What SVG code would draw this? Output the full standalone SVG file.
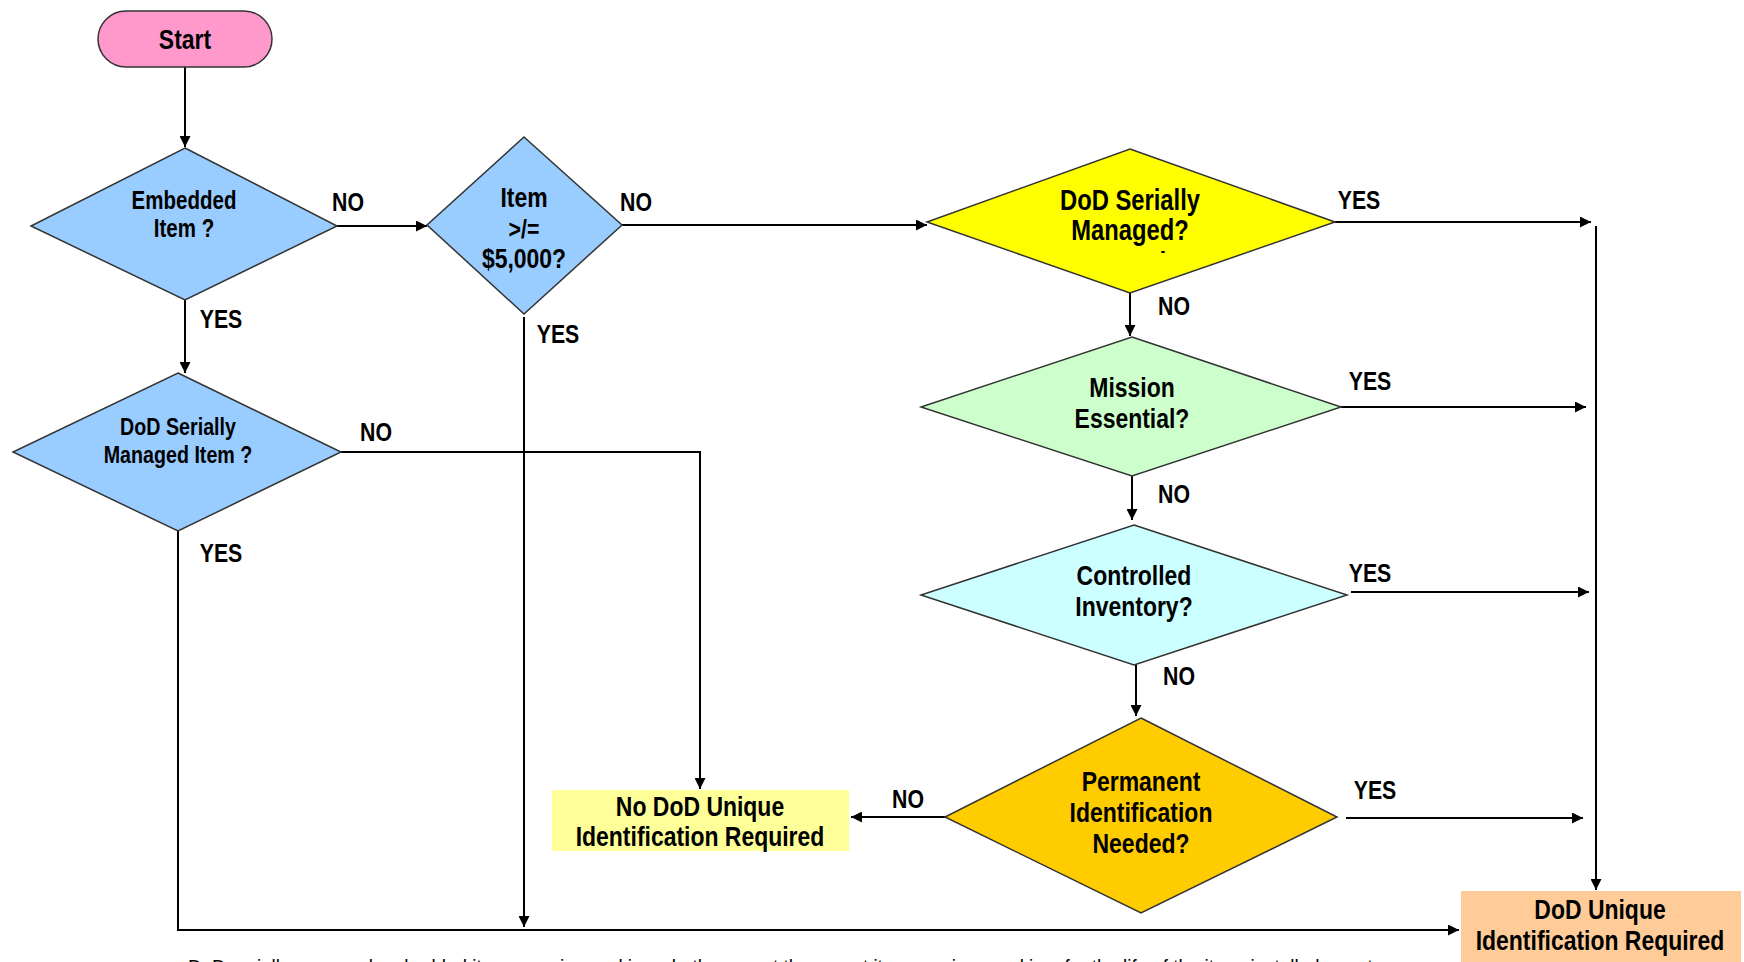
<svg xmlns="http://www.w3.org/2000/svg" width="1744" height="962" viewBox="0 0 1744 962">
<style>
  .t { font-family: "Liberation Sans", Arial, sans-serif; font-weight: bold; text-anchor: middle; fill: #000; }
  .lbl { font-family: "Liberation Sans", Arial, sans-serif; font-weight: bold; font-size: 26px; fill: #000; text-anchor: middle; }
  .dia { stroke: #333; stroke-width: 1.5; }
  .con { fill: none; stroke: #000; stroke-width: 2; }
  .cap { font-family: "Liberation Sans", Arial, sans-serif; font-size: 21px; fill: #000; }
</style>
<defs>
  <marker id="arr" viewBox="0 0 10 10" refX="10" refY="5" markerWidth="13" markerHeight="11" markerUnits="userSpaceOnUse" orient="auto">
    <path d="M0,0 L10,5 L0,10 z" fill="#000"/>
  </marker>
</defs>
<rect width="1744" height="962" fill="#fff"/>

<g id="connectors">
  <path class="con" d="M185,67 V147" marker-end="url(#arr)"/>
  <path class="con" d="M337,226 H427" marker-end="url(#arr)"/>
  <path class="con" d="M185,300 V373" marker-end="url(#arr)"/>
  <path class="con" d="M622,225 H927" marker-end="url(#arr)"/>
  <path class="con" d="M524,317 V927" marker-end="url(#arr)"/>
  <path class="con" d="M341,452 H700 V789" marker-end="url(#arr)"/>
  <path class="con" d="M178,531 V930 H1459" marker-end="url(#arr)"/>
  <path class="con" d="M1335,222 H1591" marker-end="url(#arr)"/>
  <path class="con" d="M1596,226 V890" marker-end="url(#arr)"/>
  <path class="con" d="M1130,293 V336" marker-end="url(#arr)"/>
  <path class="con" d="M1341,407 H1586" marker-end="url(#arr)"/>
  <path class="con" d="M1132,476 V520" marker-end="url(#arr)"/>
  <path class="con" d="M1351,592 H1589" marker-end="url(#arr)"/>
  <path class="con" d="M1136,665 V716" marker-end="url(#arr)"/>
  <path class="con" d="M945,817 H851" marker-end="url(#arr)"/>
  <path class="con" d="M1346,818 H1583" marker-end="url(#arr)"/>
</g>

<g id="labels">
  <text class="lbl" transform="translate(348,211) scale(0.82,1)">NO</text>
  <text class="lbl" transform="translate(636,211) scale(0.82,1)">NO</text>
  <text class="lbl" transform="translate(221,328) scale(0.82,1)">YES</text>
  <text class="lbl" transform="translate(558,343) scale(0.82,1)">YES</text>
  <text class="lbl" transform="translate(376,441) scale(0.82,1)">NO</text>
  <text class="lbl" transform="translate(221,562) scale(0.82,1)">YES</text>
  <text class="lbl" transform="translate(1359,209) scale(0.82,1)">YES</text>
  <text class="lbl" transform="translate(1174,315) scale(0.82,1)">NO</text>
  <text class="lbl" transform="translate(1370,390) scale(0.82,1)">YES</text>
  <text class="lbl" transform="translate(1174,503) scale(0.82,1)">NO</text>
  <text class="lbl" transform="translate(1370,582) scale(0.82,1)">YES</text>
  <text class="lbl" transform="translate(1179,685) scale(0.82,1)">NO</text>
  <text class="lbl" transform="translate(908,808) scale(0.82,1)">NO</text>
  <text class="lbl" transform="translate(1375,799) scale(0.82,1)">YES</text>
</g>

<g id="start">
  <rect x="98" y="11" width="174" height="56" rx="28" fill="#FF99CC" stroke="#333" stroke-width="1.5"/>
  <text class="t" font-size="28" transform="translate(185,49) scale(0.82,1)">Start</text>
</g>

<g id="embedded">
  <polygon class="dia" points="185,148 337,226 185,300 31,226" fill="#99CCFF"/>
  <text class="t" font-size="25" transform="translate(184,209) scale(0.82,1)">Embedded</text>
  <text class="t" font-size="25" transform="translate(184,237) scale(0.82,1)">Item ?</text>
</g>

<g id="item5000">
  <polygon class="dia" points="524,137 622,225 524,314 427,225" fill="#99CCFF"/>
  <text class="t" font-size="28" transform="translate(524,207) scale(0.82,1)">Item</text>
  <text class="t" font-size="26" transform="translate(524,238) scale(0.82,1)">&gt;/=</text>
  <text class="t" font-size="28" transform="translate(524,268) scale(0.82,1)">$5,000?</text>
</g>

<g id="dodSerialItem">
  <polygon class="dia" points="178,373 341,452 178,531 13,452" fill="#99CCFF"/>
  <text class="t" font-size="24" transform="translate(178,435) scale(0.82,1)">DoD Serially</text>
  <text class="t" font-size="24" transform="translate(178,463) scale(0.82,1)">Managed Item ?</text>
</g>

<g id="dodSerialManaged">
  <polygon class="dia" points="1130,149 1335,222 1130,293 927,222" fill="#FFFF00"/>
  <text class="t" font-size="29" transform="translate(1130,210) scale(0.82,1)">DoD Serially</text>
  <text class="t" font-size="29" transform="translate(1130,240) scale(0.82,1)">Managed?</text>
  <text class="t" font-size="16" transform="translate(1163,256) scale(0.82,1)">-</text>
</g>

<g id="missionEssential">
  <polygon class="dia" points="1132,337 1341,407 1132,476 921,407" fill="#CCFFCC"/>
  <text class="t" font-size="28" transform="translate(1132,397) scale(0.82,1)">Mission</text>
  <text class="t" font-size="28" transform="translate(1132,428) scale(0.82,1)">Essential?</text>
</g>

<g id="controlledInventory">
  <polygon class="dia" points="1134,525 1347,595 1134,665 921,595" fill="#CCFFFF"/>
  <text class="t" font-size="28" transform="translate(1134,585) scale(0.82,1)">Controlled</text>
  <text class="t" font-size="28" transform="translate(1134,616) scale(0.82,1)">Inventory?</text>
</g>

<g id="permanentId">
  <polygon class="dia" points="1141,718 1337,817 1141,913 945,817" fill="#FFCC00"/>
  <text class="t" font-size="28" transform="translate(1141,791) scale(0.82,1)">Permanent</text>
  <text class="t" font-size="28" transform="translate(1141,822) scale(0.82,1)">Identification</text>
  <text class="t" font-size="28" transform="translate(1141,853) scale(0.82,1)">Needed?</text>
</g>

<g id="noUid">
  <rect x="552" y="790" width="297" height="61" fill="#FFFF99"/>
  <text class="t" font-size="28" transform="translate(700,816) scale(0.82,1)">No DoD Unique</text>
  <text class="t" font-size="28" transform="translate(700,846) scale(0.82,1)">Identification Required</text>
</g>

<g id="uidRequired">
  <rect x="1461" y="891" width="280" height="80" fill="#FFCC99"/>
  <text class="t" font-size="28" transform="translate(1600,919) scale(0.82,1)">DoD Unique</text>
  <text class="t" font-size="28" transform="translate(1600,950) scale(0.82,1)">Identification Required</text>
</g>

<text class="cap" x="188" y="974" textLength="1190" lengthAdjust="spacingAndGlyphs">DoD serially managed embedded items require marking whether or not the parent item requires marking, for the life of the item, installed or not.</text>
</svg>
